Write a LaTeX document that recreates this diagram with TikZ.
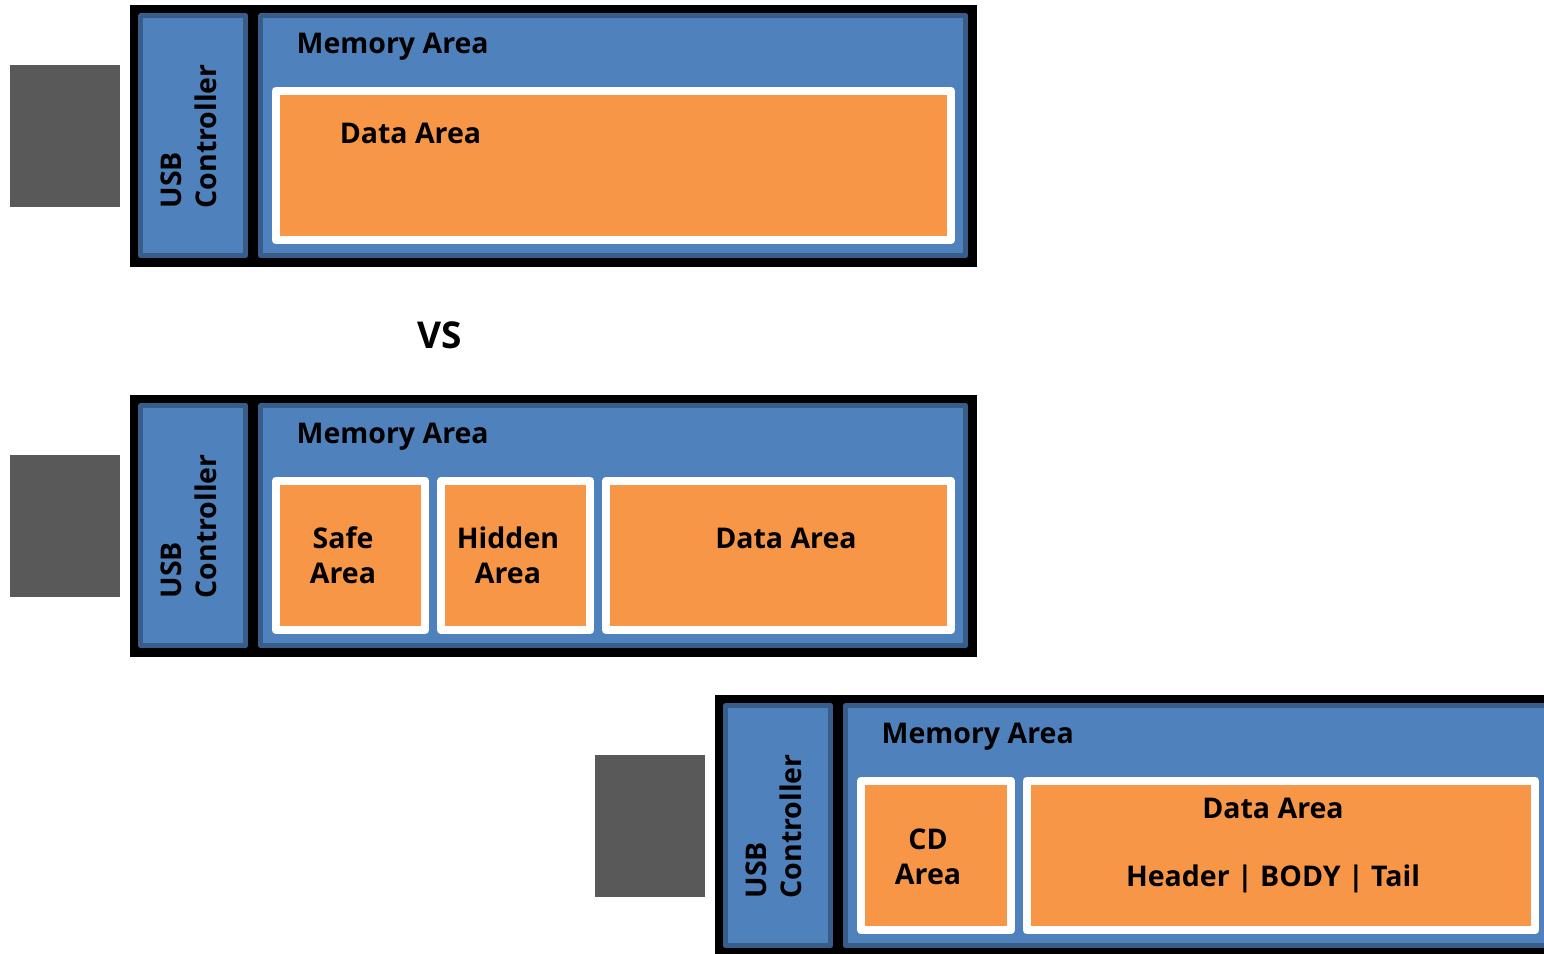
\documentclass[tikz,border=0pt]{standalone}
\usepackage{fontspec}
\setmainfont{Open Sans}
\usetikzlibrary{positioning}
\definecolor{stickblue}{HTML}{4F81BD}
\definecolor{stickedge}{HTML}{385D8A}
\definecolor{areaorange}{HTML}{F79646}
\definecolor{pluggrey}{HTML}{595959}
\tikzset{%
  stick frame/.style={fill=black},
  stick plug/.style={fill=pluggrey},
  stick part/.style={
    fill=stickblue,
    draw=stickedge,
    line width=5pt,
    line join=round
  },
  area box/.style={
    fill=areaorange,
    draw=white,
    line width=8pt,
    line join=round
  },
  area text/.style={
    font=\bfseries\fontsize{28.5}{35}\selectfont,
    inner sep=0pt,
    align=center
  },
}

\begin{document}
\begin{tikzpicture}[x=1pt, y=-1pt]

    \useasboundingbox (0,0) rectangle (1544,953);
    \clip (0,0) rectangle (1544,953);

    % the same stick body, three times
    \foreach \dx/\dy/\n in {0/0/1, 0/390/2, 585/690/3} {
      \begin{scope}[shift={(\dx,\dy)}]
        \fill [stick plug] (10,64.5) rectangle (120,206.5);
        \fill [stick frame] (130,4.5) rectangle (977,266.5);
        \draw [stick part] (140.8,15.8) rectangle (245.5,255.5);
        \draw [stick part] (260.8,15.8) rectangle (965.8,255.5);
        \node [area text, rotate=90, align=left, anchor=west] (usb-\n)
            at (189,208.5) {USB\\Controller};
        \node [area text, anchor=base west] (memory-\n)
            at (296.5,53.3) {Memory Area};
      \end{scope}
    }

    % plain stick
    \draw [area box] (275.7,90.7) rectangle (951,240.3);
    \node [area text, anchor=base] (data-1) at (410.5,143.3) {Data Area};

    \node [area text, font=\bfseries\fontsize{37}{44}\selectfont, anchor=base]
        (vs) at (440,348.3) {VS};

    % stick with safe and hidden area
    \draw [area box] (276,480.7) rectangle (425.3,630.3);
    \draw [area box] (441.3,480.7) rectangle (590.3,630.3);
    \draw [area box] (606,480.7) rectangle (951,630.3);
    \node [area text, anchor=base] (safe) at (343,583.3) {Safe\\Area};
    \node [area text, anchor=base] (hidden) at (508,583.3) {Hidden\\Area};
    \node [area text, anchor=base] (data-2) at (786,548.3) {Data Area};

    % stick with cd area
    \draw [area box] (861.3,780.7) rectangle (1011,930.3);
    \draw [area box] (1026.7,780.7) rectangle (1535.3,930.3);
    \node [area text, anchor=base] (cd) at (928,884) {CD\\Area};
    \node [area text, anchor=base] (data-3) at (1273,886.7)
        {Data Area\\[33.5pt]Header | BODY | Tail};

\end{tikzpicture}
\end{document}
